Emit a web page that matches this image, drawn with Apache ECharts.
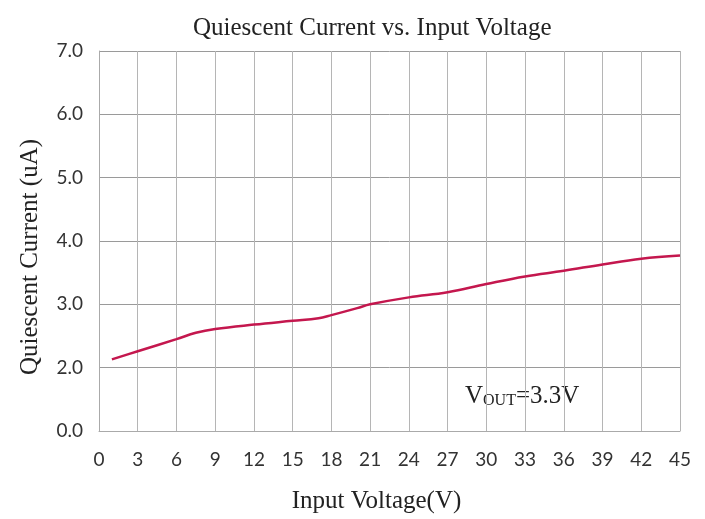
<!DOCTYPE html>
<html>
<head>
<meta charset="utf-8">
<script src="https://cdn.jsdelivr.net/npm/echarts@6/dist/echarts.min.js"></script>
<style>
  html, body { margin: 0; padding: 0; background: #fff; }
  #chart { width: 705px; height: 519px; }
</style>
</head>
<body>
<div id="chart"></div>
<script>
// data
const voltage = [1, 3, 6, 7.5, 9, 12, 15, 17, 18, 20, 21, 24, 27, 30, 33, 36, 39, 42, 45];
const current = [2.13, 2.26, 2.45, 2.55, 2.61, 2.68, 2.74, 2.78, 2.83, 2.94, 3.0, 3.11, 3.19, 3.32, 3.44, 3.53, 3.63, 3.72, 3.77];
const xTicks = [0, 3, 6, 9, 12, 15, 18, 21, 24, 27, 30, 33, 36, 39, 42, 45];
// the y axis of the original is broken: the bottom tick reads 0.0, then 2.0 .. 7.0
const yTickLabels = { 1: '0.0', 2: '2.0', 3: '3.0', 4: '4.0', 5: '5.0', 6: '6.0', 7: '7.0' };

const serif = '"Liberation Serif", "DejaVu Serif", serif';
const sans = 'Lato, "Open Sans", sans-serif';

let chart = echarts.init(document.getElementById('chart'));
let option = {
  animation: false,
  title: {
    text: 'Quiescent Current vs. Input Voltage',
    left: 188,
    top: 11,
    textStyle: { fontFamily: serif, fontSize: 25, fontWeight: 'normal', color: '#222' }
  },
  grid: { left: 99, right: 25, top: 51, bottom: 79 },
  xAxis: {
    type: 'value',
    min: 0,
    max: 45,
    interval: 3,
    name: 'Input Voltage(V)',
    nameLocation: 'middle',
    nameGap: 58,
    nameTextStyle: { fontFamily: serif, fontSize: 25, color: '#222', padding: [0, 26, 0, 0] },
    axisLine: { lineStyle: { color: '#aaa', width: 1 } },
    axisTick: { show: false },
    axisLabel: { fontFamily: sans, fontSize: 19, color: '#333', margin: 19,
      formatter: v => xTicks.includes(v) ? String(v) : '' },
    splitLine: { show: true, lineStyle: { color: '#b5b5b5', width: 1 } }
  },
  yAxis: {
    type: 'value',
    min: 1,
    max: 7,
    interval: 1,
    name: 'Quiescent Current (uA)',
    nameLocation: 'middle',
    nameGap: 56,
    nameTextStyle: { fontFamily: serif, fontSize: 25, color: '#222', padding: [0, 32, 0, 0] },
    axisLine: { show: true, lineStyle: { color: '#aaa', width: 1 } },
    axisTick: { show: false },
    axisLabel: { fontFamily: sans, fontSize: 19, color: '#333', margin: 16,
      formatter: v => yTickLabels[v] || '' },
    splitLine: { show: true, lineStyle: { color: '#9a9a9a', width: 1 } }
  },
  series: [
    {
      type: 'line',
      data: voltage.map((v, i) => [v, current[i]]),
      smooth: 0.4,
      symbol: 'none',
      lineStyle: { color: '#c4174e', width: 2.5 }
    }
  ],
  graphic: [
    {
      type: 'text',
      left: 465,
      top: 384,
      style: {
        text: '{a|V}{b|OUT}{a|=3.3V}',
        rich: {
          a: { fontFamily: serif, fontSize: 25, fill: '#222' },
          b: { fontFamily: serif, fontSize: 16, fill: '#222', verticalAlign: 'bottom' }
        }
      }
    }
  ]
};
chart.setOption(option);
</script>
</body>
</html>
